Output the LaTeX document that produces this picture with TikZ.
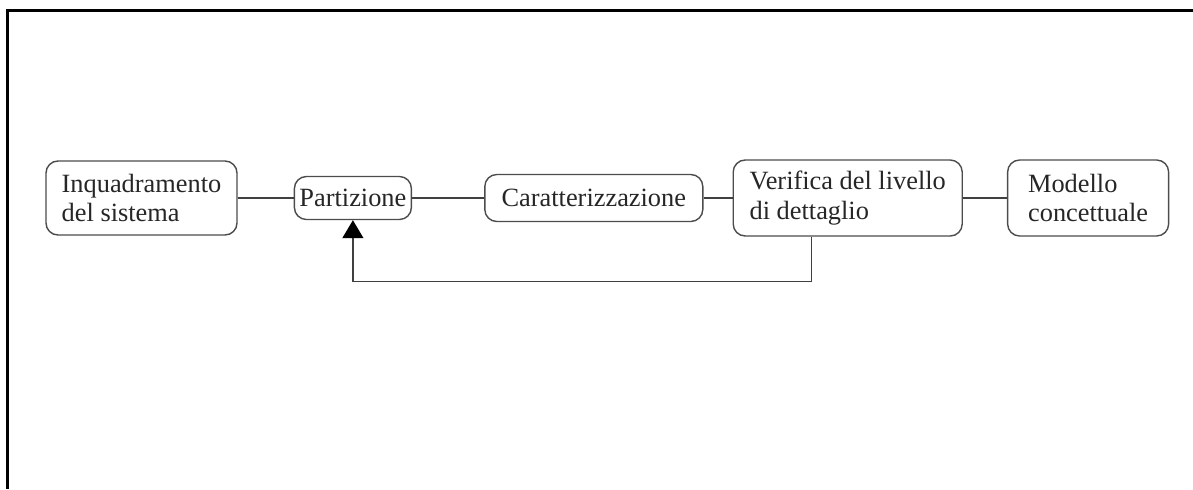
\documentclass[tikz,border=0pt]{standalone}
\usepackage{xcolor}
\usepackage{fontspec}
\setmainfont{Liberation Serif}
\usepackage{tikz}
\usetikzlibrary{arrows.meta, positioning}

\begin{document}
\begin{tikzpicture}[node distance=1cm, auto]
    % Styles
    \tikzstyle{step box} = [rectangle, rounded corners=0.24cm, draw=black!70, line width=0.8pt, align=left, text=black!85, inner sep=0pt, font=\fontsize{15}{17}\selectfont]
    \tikzstyle{link} = [draw=black!75, line width=0.8pt]
    \tikzstyle{arrow} = [link, -{Triangle[width=0.42cm, length=0.36cm, color=black]}]
    \tikzstyle{frame} = [line width=1.7pt, black]

    % Canvas
    \useasboundingbox (0,0) rectangle (23.86,-9.78);
    \draw [frame] (0.15,-9.78) -- (0.15,-0.21) -- (23.86,-0.21);

    % Nodes
    \node (inq) [step box, minimum width=3.82cm, minimum height=1.48cm] at (2.83,-3.96) {Inquadramento\\del sistema};
    \node (part) [step box, minimum width=2.34cm, minimum height=0.86cm, right=1.12cm of inq] {Partizione};
    \node (car) [step box, minimum width=4.36cm, minimum height=0.94cm, right=1.44cm of part] {Caratterizzazione};
    \node (ver) [step box, minimum width=4.58cm, minimum height=1.52cm, right=0.58cm of car] {Verifica del livello\\di dettaglio};
    \node (mod) [step box, minimum width=3.22cm, minimum height=1.52cm, right=0.88cm of ver] {Modello\\concettuale};

    % Arrows
    \draw [link] (inq) -- (part);
    \draw [link] (part) -- (car);
    \draw [link] (car) -- (ver);
    \draw [link] (ver) -- (mod);
    \draw [arrow] ([xshift=-0.73cm]ver.south) -- ++(0,-0.9) -| (part.south);
\end{tikzpicture}
\end{document}
